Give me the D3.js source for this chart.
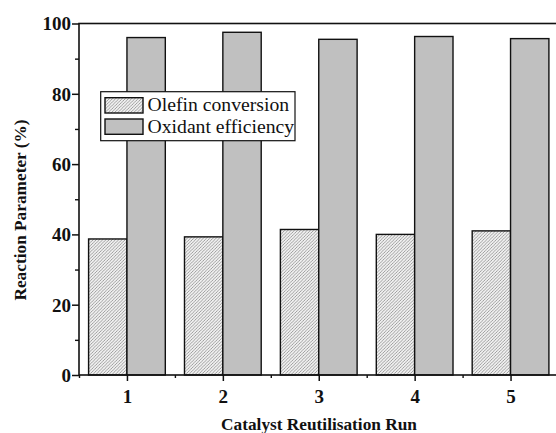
<!DOCTYPE html>
<html>
<head>
<meta charset="utf-8">
<script src="https://cdn.jsdelivr.net/npm/d3@7"></script>
<style>
  html, body { margin: 0; padding: 0; background: #fff; }
  svg { display: block; }
  text { font-family: "Liberation Serif", "Times New Roman", serif; fill: #111; }
</style>
</head>
<body>
<svg id="chart" width="556" height="433"></svg>
<script>
// Catalyst reuse runs and the two measured parameters (%)
const runs = [1, 2, 3, 4, 5];
const olefinConversion = [38.7, 39.3, 41.4, 40.0, 41.0];
const oxidantEfficiency = [96.0, 97.5, 95.5, 96.3, 95.7];
const seriesNames = ["Olefin conversion", "Oxidant efficiency"];
const yTicks = [0, 20, 40, 60, 80, 100];
const yMinorTicks = [10, 30, 50, 70, 90];
const xMinorTicks = [0.5, 1.5, 2.5, 3.5, 4.5, 5.5];

const svg = d3.select("#chart");
const plotLeft = 79, plotRight = 558.5, plotTop = 23.5, plotBottom = 375;

const x = d3.scaleLinear().domain([0.5, 5.5]).range([plotLeft, plotRight]);
const y = d3.scaleLinear().domain([0, 100]).range([plotBottom, plotTop]);
const barW = (x(2) - x(1)) * 0.4;

// diagonal hatch for the conversion bars
const defs = svg.append("defs");
const pat = defs.append("pattern")
  .attr("id", "hatch")
  .attr("patternUnits", "userSpaceOnUse")
  .attr("width", 3.2).attr("height", 3.2);
pat.append("rect").attr("width", 3.2).attr("height", 3.2).attr("fill", "#f0f0f0");
pat.append("path")
  .attr("d", "M-1,1 L1,-1 M0,3.2 L3.2,0 M2.2,4.2 L4.2,2.2")
  .attr("stroke", "#858585").attr("stroke-width", 0.75);

const data = runs.map((r, i) => ({ run: r, ole: olefinConversion[i], oxi: oxidantEfficiency[i] }));

// bars
const g = svg.append("g");
g.selectAll("rect.ole").data(data).enter().append("rect")
  .attr("class", "ole")
  .attr("x", d => x(d.run) - barW)
  .attr("y", d => y(d.ole))
  .attr("width", barW)
  .attr("height", d => y(0) - y(d.ole))
  .attr("fill", "url(#hatch)")
  .attr("stroke", "#111").attr("stroke-width", 1.4);

g.selectAll("rect.oxi").data(data).enter().append("rect")
  .attr("class", "oxi")
  .attr("x", d => x(d.run))
  .attr("y", d => y(d.oxi))
  .attr("width", barW)
  .attr("height", d => y(0) - y(d.oxi))
  .attr("fill", "#c0c0c0")
  .attr("stroke", "#111").attr("stroke-width", 1.4);

// frame
svg.append("rect")
  .attr("x", plotLeft).attr("y", plotTop)
  .attr("width", plotRight - plotLeft).attr("height", plotBottom - plotTop)
  .attr("fill", "none").attr("stroke", "#111").attr("stroke-width", 1.6);

// y axis
const yAxis = d3.axisLeft(y).tickValues(yTicks).tickSize(7).tickPadding(1).tickFormat(d3.format("d"));
const ya = svg.append("g").attr("transform", `translate(${plotLeft},0)`).call(yAxis);
ya.select(".domain").remove();
ya.selectAll("line").attr("stroke", "#111").attr("stroke-width", 1.5);
ya.selectAll("text").attr("font-size", 19).attr("font-weight", "bold").attr("dy", "0.34em");
const yMinor = d3.axisLeft(y).tickValues(yMinorTicks).tickSize(4).tickFormat("");
const ym = svg.append("g").attr("transform", `translate(${plotLeft},0)`).call(yMinor);
ym.select(".domain").remove();
ym.selectAll("line").attr("stroke", "#111").attr("stroke-width", 1.4);

// x axis
const xAxis = d3.axisBottom(x).tickValues(runs).tickSize(6).tickPadding(9).tickFormat(d3.format("d"));
const xa = svg.append("g").attr("transform", `translate(0,${plotBottom})`).call(xAxis);
xa.select(".domain").remove();
xa.selectAll("line").attr("stroke", "#111").attr("stroke-width", 1.5);
xa.selectAll("text").attr("font-size", 19).attr("font-weight", "bold");
const xMinor = d3.axisBottom(x).tickValues(xMinorTicks).tickSize(3).tickFormat("");
const xm = svg.append("g").attr("transform", `translate(0,${plotBottom})`).call(xMinor);
xm.select(".domain").remove();
xm.selectAll("line").attr("stroke", "#111").attr("stroke-width", 1.4);

// axis titles
svg.append("text")
  .attr("x", 319).attr("y", 430)
  .attr("text-anchor", "middle")
  .attr("font-size", 17.3).attr("font-weight", "bold")
  .text("Catalyst Reutilisation Run");
svg.append("text")
  .attr("transform", "translate(26,210) rotate(-90)")
  .attr("text-anchor", "middle")
  .attr("font-size", 17.3).attr("font-weight", "bold")
  .text("Reaction Parameter (%)");

// legend
const lg = svg.append("g");
lg.append("rect")
  .attr("x", 100.7).attr("y", 91.7).attr("width", 194.3).attr("height", 49)
  .attr("fill", "#fff").attr("stroke", "#111").attr("stroke-width", 1.2);
const fills = ["url(#hatch)", "#c0c0c0"];
seriesNames.forEach((name, i) => {
  const yy = 97.7 + i * 21.3;
  lg.append("rect")
    .attr("x", 105).attr("y", yy).attr("width", 38).attr("height", 15.3)
    .attr("fill", fills[i]).attr("stroke", "#111").attr("stroke-width", 1.4);
  lg.append("text")
    .attr("x", 147.5).attr("y", yy + 13.5)
    .attr("font-size", 19.7)
    .text(name);
});
</script>
</body>
</html>
